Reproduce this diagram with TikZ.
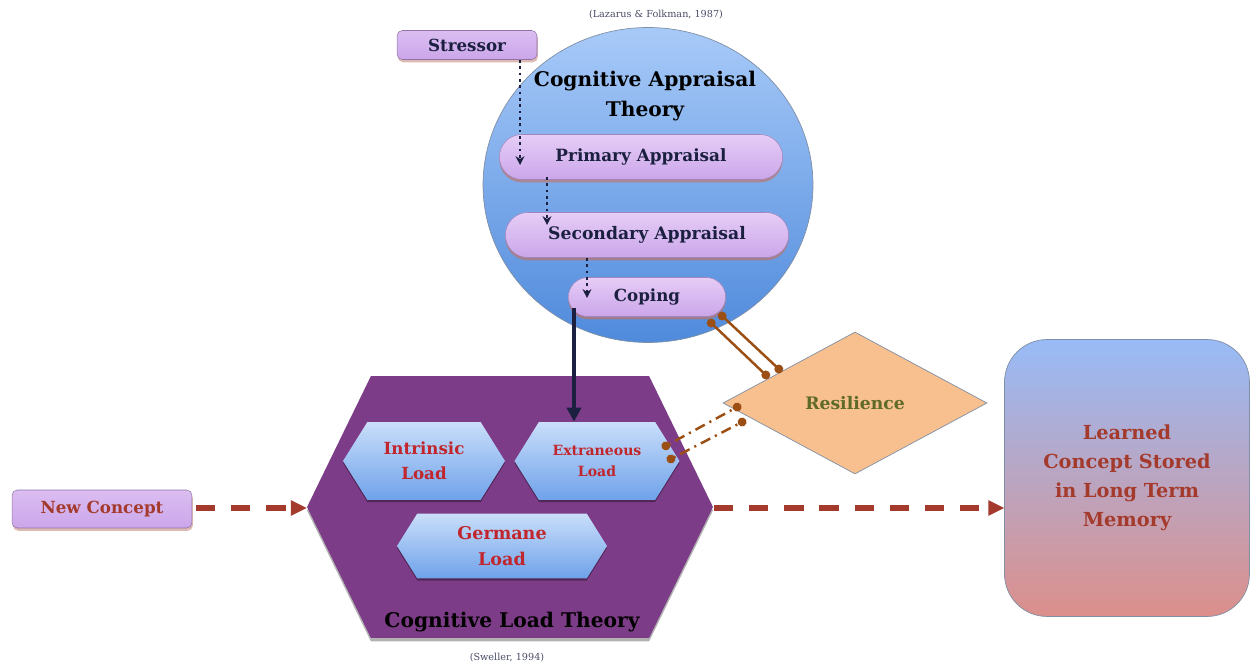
\documentclass[tikz,border=0pt]{standalone}
\usepackage{fontspec}
\setmainfont{DejaVu Serif}
\usetikzlibrary{shapes.geometric,shapes.misc,shapes.symbols,arrows.meta,shadows,calc}
\definecolor{navy}{HTML}{1B2040}
\definecolor{lilac}{HTML}{CBA6EA}
\definecolor{lilaclt}{HTML}{E6CDF6}
\definecolor{redtxt}{HTML}{C0262C}
\definecolor{brick}{HTML}{A33A2C}
\definecolor{brown}{HTML}{9C4F14}
\definecolor{hexpurple}{HTML}{7D3C87}
\definecolor{circtop}{HTML}{A8CAF8}
\definecolor{circmid}{HTML}{7EB0F0}
\definecolor{circbot}{HTML}{4F8ADC}
\definecolor{hexlt}{HTML}{C9DEFA}
\definecolor{hexdk}{HTML}{6FA2EA}
\definecolor{peach}{HTML}{F8C08F}
\definecolor{olive}{HTML}{5E6A28}
\definecolor{boxtop}{HTML}{98BBF7}
\definecolor{boxbot}{HTML}{DC8F8B}
\definecolor{rimgray}{HTML}{7F8FA6}
\tikzset{
  fs/.style={font=\fontsize{#1}{\dimexpr #1pt*3/2\relax}\selectfont\bfseries},
  pill/.style={rounded rectangle, top color=lilaclt, bottom color=lilac, draw=lilac!80!black, line width=0.3pt,
     drop shadow={shadow xshift=0pt, shadow yshift=-1.6pt, fill=brick!70, opacity=0.7}, text=navy},
  tag/.style={rectangle, rounded corners=3pt, top color=lilaclt!60!lilac, bottom color=lilac, draw=lilac!70!black, line width=0.3pt,
     drop shadow={shadow xshift=0.5pt, shadow yshift=-1.6pt, fill=brick!60, opacity=0.6}},
  loadhex/.style={signal, signal to=east and west, signal pointer angle=116, top color=hexlt, bottom color=hexdk,
     draw=none, text=redtxt, align=center, inner sep=0pt,
     drop shadow={shadow xshift=0pt, shadow yshift=-1.2pt, fill=black, opacity=0.35}},
  dotarrow/.style={draw=navy, line width=1.6pt, dotted, -{Stealth[length=5pt,width=5pt]}},
  dasharrow/.style={draw=brick, line width=3pt, dash pattern=on 11pt off 9pt, -{Triangle[length=9pt,width=9pt,line width=0pt]}},
  brownlink/.style={draw=brown, line width=1.4pt, {Circle[length=5pt]}-{Circle[length=5pt]}},
  brownlinkdot/.style={draw=brown, line width=1.4pt, dash pattern=on 1.2pt off 3pt on 6pt off 3pt, {Circle[length=5pt]}-{Circle[length=5pt]}},
}
\begin{document}
\begin{tikzpicture}[x=0.02cm,y=-0.02cm]
\useasboundingbox (0,0) rectangle (1256,671);

% Cognitive appraisal circle
\node (cat) [ellipse, minimum width=6.6cm, minimum height=6.3cm, top color=circtop, middle color=circmid, bottom color=circbot, draw=rimgray, line width=0.4pt] at (648,185) {};
\node (citeA) [font=\fontsize{5.5}{6}\selectfont, text=navy!80] at (656,15) {(Lazarus \& Folkman, 1987)};
\node (catt) [fs=11.5, text=black, align=center] at (645,96) {Cognitive Appraisal\\Theory};

\node (stressor) [tag, fs=9.5, text=navy, minimum width=2.8cm, minimum height=0.58cm] at (467,45) {Stressor};
\node (primary) [pill, fs=9.6, minimum width=5.9cm, minimum height=0.9cm] at (641,157) {Primary Appraisal};
\node (secondary) [pill, fs=9.8, minimum width=5.9cm, minimum height=0.9cm] at (647,235) {Secondary Appraisal};
\node (coping) [pill, fs=9.5, minimum width=3.38cm, minimum height=0.78cm] at (647,297) {Coping};

% Cognitive load theory hexagon
\node (clt) [signal, signal to=east and west, signal pointer angle=128, fill=hexpurple, minimum width=8.12cm, minimum height=5.24cm, inner sep=0pt,
   drop shadow={shadow xshift=0pt, shadow yshift=-2pt, fill=black, opacity=0.3}] at (510,507) {};
\node (intr) [loadhex, fs=9.5, minimum width=3.24cm, minimum height=1.56cm] at (424,461) {Intrinsic\\Load};
\node (extr) [loadhex, fs=8, minimum width=3.3cm, minimum height=1.56cm] at (597,461) {Extraneous\\Load};
\node (germ) [loadhex, fs=10, minimum width=4.2cm, minimum height=1.3cm] at (502,546) {Germane\\Load};
\node (cltt) [fs=11.5, text=black] at (512,622) {Cognitive Load Theory};
\node (citeS) [font=\fontsize{5.5}{6}\selectfont, text=navy!80] at (507,658) {(Sweller, 1994)};

% Resilience
\node (res) [diamond, fill=peach, draw=rimgray, line width=0.4pt, minimum width=5.28cm, minimum height=2.84cm, inner sep=0pt, fs=9.8, text=olive] at (855,403) {Resilience};

% New concept and learned
\node (newc) [tag, fs=9.5, text=brick, minimum width=3.6cm, minimum height=0.76cm] at (102,509) {New Concept};
\node (learn) [rectangle, rounded corners=0.85cm, top color=boxtop, bottom color=boxbot, draw=rimgray, line width=0.4pt,
   minimum width=4.9cm, minimum height=5.54cm, fs=11, text=brick, align=center] at (1127,478) {Learned\\Concept Stored\\in Long Term\\Memory};

% connectors
\coordinate (s1) at (520,60);
\coordinate (p1) at (520,165);
\draw[dotarrow] (s1) -- (p1);
\coordinate (p2) at (547,177);
\coordinate (q2) at (547,225);
\draw[dotarrow] (p2) -- (q2);
\coordinate (q3) at (587,258);
\coordinate (c3) at (587,298);
\draw[dotarrow] (q3) -- (c3);
\coordinate (c4) at (574,308);
\draw[draw=navy, line width=2.3pt, -{Triangle[length=8pt,width=8pt]}] (c4) -- (extr.north -| c4);

\coordinate (nce) at (196,508);
\draw[dasharrow] (nce) -- (nce -| clt.west);
\coordinate (cltr) at (714,508);
\draw[dasharrow] (cltr) -- (cltr -| learn.west);

\coordinate (cp1) at (708,320);
\coordinate (cp2) at (719,313);
\coordinate (rs1) at (769,378);
\coordinate (rs2) at (782,372);
\draw[brownlink] (cp1) -- (rs1);
\draw[brownlink] (cp2) -- (rs2);

\coordinate (ex1) at (662,448);
\coordinate (ex2) at (667,461);
\coordinate (rs3) at (741,405);
\coordinate (rs4) at (746,420);
\draw[brownlinkdot] (ex1) -- (rs3);
\draw[brownlinkdot] (ex2) -- (rs4);
\end{tikzpicture}
\end{document}
